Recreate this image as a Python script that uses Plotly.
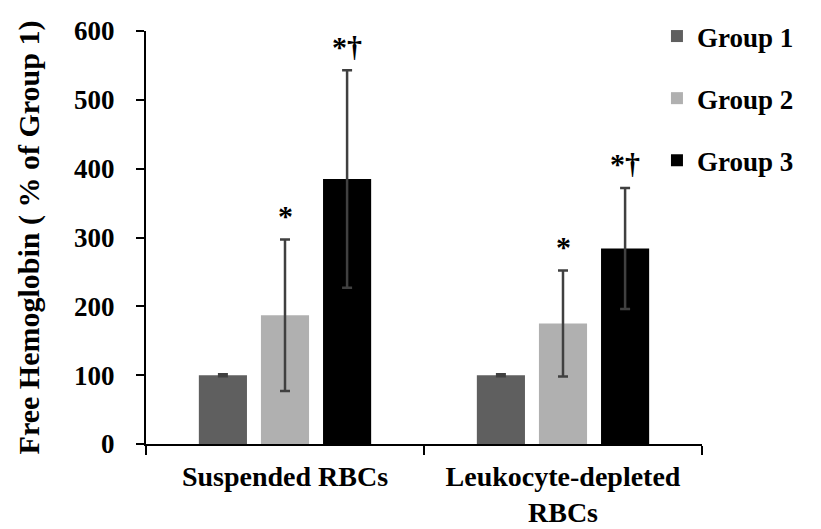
import plotly.graph_objects as go

categories = ["Suspended RBCs", "Leukocyte-depleted<br>RBCs"]
groups = ["Group 1", "Group 2", "Group 3"]
means = {
    "Group 1": [100, 100],
    "Group 2": [187, 175],
    "Group 3": [385, 284],
}
errors = {
    "Group 1": [1.5, 1.5],
    "Group 2": [110, 77],
    "Group 3": [158, 88],
}
marks = {
    "Group 1": ["", ""],
    "Group 2": ["*", "*"],
    "Group 3": ["*†", "*†"],
}
colors = {"Group 1": "#5f5f5f", "Group 2": "#b0b0b0", "Group 3": "#000000"}

FONT = "Liberation Serif"
# page has an 8px body margin; figure fills the rest of the 821x529 window
W, H = 813, 521
ML, MR, MT, MB = 138, 119, 23, 85
BARGAP = 0.33
GROUPGAP = 0.225

fig = go.Figure()
for i, g in enumerate(groups):
    fig.add_trace(go.Bar(
        x=categories, y=means[g], name=g,
        marker=dict(color=colors[g], line=dict(width=0)),
        error_y=dict(type="data", array=errors[g], visible=True,
                     color="#404040", thickness=2.5, width=5),
        legendgroup=g,
    ))

plot_w = W - ML - MR
cat_w = plot_w / len(categories)
slot = cat_w * (1 - BARGAP) / len(groups)
for i, g in enumerate(groups):
    for j, c in enumerate(categories):
        if marks[g][j]:
            fig.add_annotation(
                x=c, y=means[g][j] + errors[g][j], xref="x", yref="y",
                text=marks[g][j], showarrow=False,
                xshift=(i - 1) * slot, yshift=24,
                font=dict(family=FONT, size=30, color="black", weight="bold"),
            )

fig.update_layout(
    width=W, height=H,
    margin=dict(l=ML, r=MR, t=MT, b=MB, pad=0, autoexpand=False),
    paper_bgcolor="white", plot_bgcolor="white",
    barmode="group", bargap=BARGAP, bargroupgap=GROUPGAP,
    font=dict(family=FONT, size=24, color="black"),
    showlegend=True,
    legend=dict(x=0.919, y=1.046, xanchor="left", yanchor="top",
                font=dict(family=FONT, size=27, color="black", weight="bold"),
                tracegroupgap=24, itemwidth=30, bgcolor="rgba(0,0,0,0)"),
    xaxis=dict(
        showline=True, linecolor="black", linewidth=2,
        ticks="outside", tickson="boundaries", ticklen=9, tickwidth=2, tickcolor="black",
        tickfont=dict(family=FONT, size=28, color="black", weight="bold"),
        ticklabelstandoff=6, automargin=False,
        showgrid=False, zeroline=False,
    ),
    yaxis=dict(
        range=[0, 600], tickvals=[0, 100, 200, 300, 400, 500, 600],
        showline=True, linecolor="black", linewidth=2,
        ticks="outside", ticklen=8, tickwidth=2, tickcolor="black",
        tickfont=dict(family=FONT, size=27, color="black", weight="bold"),
        ticklabelstandoff=16, automargin=False,
        showgrid=False, zeroline=False,
        title=dict(text="Free Hemoglobin ( % of Group 1)",
                   font=dict(family=FONT, size=30, color="black", weight="bold"),
                   standoff=26),
    ),
)

fig.write_html("out.html")
